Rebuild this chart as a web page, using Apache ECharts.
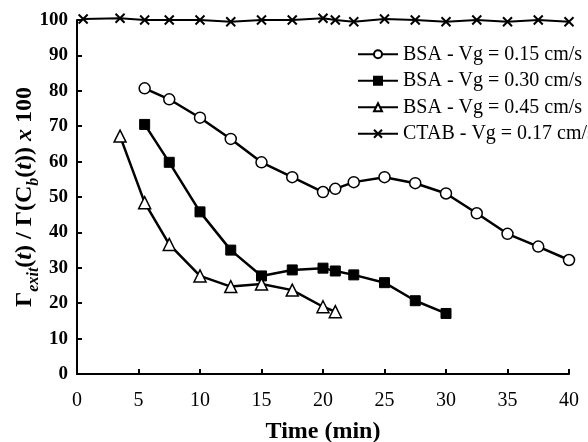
<!DOCTYPE html>
<html>
<head>
    <meta charset="UTF-8">
    <title>Gamma exit ratio</title>
    <script src="https://cdn.jsdelivr.net/npm/echarts@6/dist/echarts.min.js"></script>
    <style>
        html, body { margin: 0; padding: 0; background: #fff; }
        #main { width: 588px; height: 442px; }
    </style>
</head>
<body>
<div id="main"></div>
<script>
    // time (min) and values
    const seriesNames = ['BSA - Vg = 0.15 cm/s', 'BSA - Vg = 0.30 cm/s', 'BSA - Vg = 0.45 cm/s', 'CTAB - Vg = 0.17 cm/s'];

    const timeBsa15 = [5.5, 7.5, 10, 12.5, 15, 17.5, 20, 21, 22.5, 25, 27.5, 30, 32.5, 35, 37.5, 40];
    const valBsa15 = [80.7, 77.6, 72.4, 66.4, 59.8, 55.6, 51.4, 52.3, 54.2, 55.6, 53.9, 51.0, 45.4, 39.6, 36.0, 32.2];

    const timeBsa30 = [5.5, 7.5, 10, 12.5, 15, 17.5, 20, 21, 22.5, 25, 27.5, 30];
    const valBsa30 = [70.5, 59.8, 45.8, 35.0, 27.7, 29.4, 29.9, 29.1, 28.0, 25.8, 20.7, 17.1];

    const timeBsa45 = [3.5, 5.5, 7.5, 10, 12.5, 15, 17.5, 20, 21];
    const valBsa45 = [67.2, 48.4, 36.6, 27.7, 24.7, 25.4, 23.7, 19.0, 17.6];

    const timeCtab = [0.5, 3.5, 5.5, 7.5, 10, 12.5, 15, 17.5, 20, 21, 22.5, 25, 27.5, 30, 32.5, 35, 37.5, 40];
    const valCtab = [100.3, 100.5, 100, 100, 100, 99.5, 100, 100, 100.5, 100, 99.5, 100.3, 100, 99.5, 100, 99.5, 100, 99.5];

    const xTicks = { min: 0, max: 40, interval: 5 };
    const yTicks = { min: 0, max: 100, interval: 10 };

    function pairs(t, v) {
        return t.map(function (x, i) { return [x, v[i]]; });
    }

    const serif = 'Liberation Serif';
    const crossPath = 'path://M0,0L10,10M10,0L0,10';

    const chart = echarts.init(document.getElementById('main'), null, { renderer: 'canvas' });

    const option = {
        animation: false,
        backgroundColor: '#fff',
        textStyle: { fontFamily: serif, color: '#000' },
        grid: { left: 77, right: 19, top: 20, bottom: 68, outerBoundsMode: 'none' },
        legend: {
            orient: 'vertical',
            left: 357,
            top: 44,
            padding: 0,
            itemWidth: 40,
            itemHeight: 10,
            itemGap: 6,
            textStyle: { fontFamily: serif, fontSize: 20, color: '#000', lineHeight: 20.5 },
            data: seriesNames
        },
        xAxis: {
            type: 'value',
            min: xTicks.min,
            max: xTicks.max,
            interval: xTicks.interval,
            name: 'Time (min)',
            nameLocation: 'middle',
            nameGap: 46,
            nameMoveOverlap: false,
            nameTextStyle: { fontFamily: serif, fontSize: 24, fontWeight: 'bold', color: '#000' },
            axisLine: { lineStyle: { color: '#000', width: 2 } },
            axisTick: { inside: true, length: 5, lineStyle: { color: '#000', width: 2 } },
            axisLabel: { fontFamily: serif, fontSize: 20, color: '#000', margin: 17 },
            splitLine: { show: false }
        },
        yAxis: {
            type: 'value',
            min: yTicks.min,
            max: yTicks.max,
            interval: yTicks.interval,
            name: '{b|Γ}{s|exit}{b|(}{i|t}{b|) / Γ(C}{s|b}{b|(}{i|t}{b|)) }{i|x}{b| 100}',
            nameLocation: 'middle',
            nameGap: 40,
            nameRotate: 90,
            nameMoveOverlap: false,
            nameTextStyle: {
                fontFamily: serif,
                color: '#000',
                rich: {
                    b: { fontFamily: serif, fontSize: 24, fontWeight: 'bold', color: '#000', lineHeight: 26, verticalAlign: 'bottom' },
                    i: { fontFamily: serif, fontSize: 24, fontWeight: 'bold', fontStyle: 'italic', color: '#000', lineHeight: 26, verticalAlign: 'bottom' },
                    s: { fontFamily: serif, fontSize: 16, fontWeight: 'bold', fontStyle: 'italic', color: '#000', lineHeight: 26, verticalAlign: 'bottom', padding: [0, 0, -5, 0] }
                }
            },
            axisLine: { show: true, lineStyle: { color: '#000', width: 2 } },
            axisTick: { show: true, inside: true, length: 5, lineStyle: { color: '#000', width: 2 } },
            axisLabel: { fontFamily: serif, fontSize: 19, fontWeight: 'bold', color: '#000', margin: 9 },
            splitLine: { show: false }
        },
        series: [
            {
                name: seriesNames[0],
                type: 'line',
                data: pairs(timeBsa15, valBsa15),
                symbol: 'circle',
                symbolSize: 11,
                lineStyle: { color: '#000', width: 2.5 },
                itemStyle: { color: '#fff', borderColor: '#000', borderWidth: 1.5 },
                z: 3
            },
            {
                name: seriesNames[1],
                type: 'line',
                data: pairs(timeBsa30, valBsa30),
                symbol: 'rect',
                symbolSize: 10,
                lineStyle: { color: '#000', width: 2.5 },
                itemStyle: { color: '#000', borderColor: '#000', borderWidth: 1 },
                z: 3
            },
            {
                name: seriesNames[2],
                type: 'line',
                data: pairs(timeBsa45, valBsa45),
                symbol: 'triangle',
                symbolSize: 12,
                lineStyle: { color: '#000', width: 2.5 },
                itemStyle: { color: '#fff', borderColor: '#000', borderWidth: 1.5 },
                z: 3
            },
            {
                name: seriesNames[3],
                type: 'line',
                data: pairs(timeCtab, valCtab),
                clip: false,
                symbol: crossPath,
                symbolSize: 9,
                lineStyle: { color: '#000', width: 2 },
                itemStyle: { color: 'none', borderColor: '#000', borderWidth: 2 },
                z: 3
            }
        ]
    };

    chart.setOption(option);
</script>
</body>
</html>
